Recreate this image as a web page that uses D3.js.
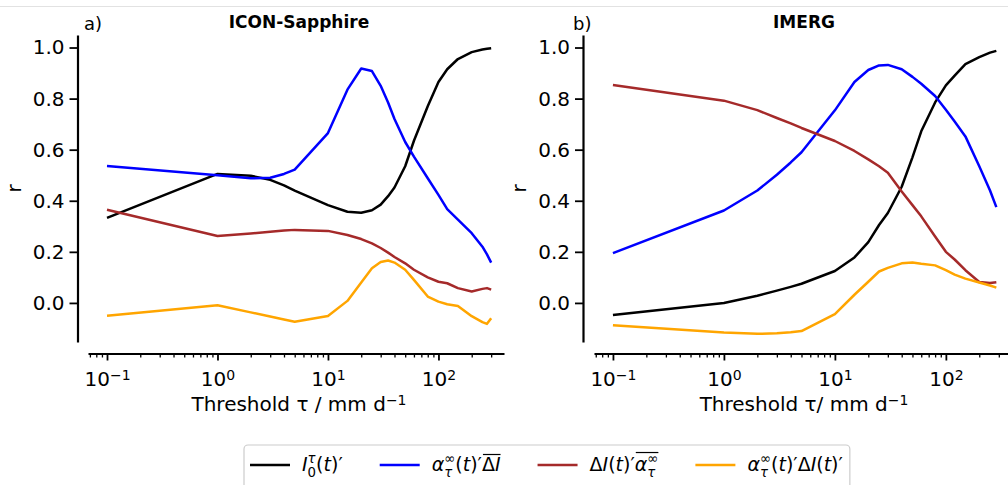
<!DOCTYPE html>
<html>
<head>
<meta charset="utf-8">
<script src="https://cdn.jsdelivr.net/npm/d3@7/dist/d3.min.js"></script>
<style>
    body { margin: 0; background: #fff; }
    svg { display: block; font-family: "DejaVu Sans", sans-serif; }
</style>
</head>
<body>
<svg id="chart" width="1008" height="485"></svg>
<script>
// ICON-Sapphire (panel a)
var thresholdsIcon = [0.1, 1, 2, 3, 4, 5, 10, 15, 20, 25, 30, 35, 40, 50, 60, 80, 100, 120, 150, 200, 250, 275, 300];
var i0Icon = [0.333, 0.505, 0.498, 0.482, 0.46, 0.44, 0.383, 0.357, 0.353, 0.363, 0.385, 0.418, 0.452, 0.535, 0.635, 0.77, 0.865, 0.915, 0.955, 0.982, 0.992, 0.995, 0.997];
var alphaDiBarIcon = [0.536, 0.5, 0.488, 0.49, 0.505, 0.522, 0.665, 0.835, 0.918, 0.908, 0.85, 0.785, 0.72, 0.63, 0.573, 0.488, 0.423, 0.367, 0.326, 0.273, 0.22, 0.19, 0.158];
var diAlphaBarIcon = [0.365, 0.262, 0.272, 0.279, 0.284, 0.286, 0.282, 0.266, 0.25, 0.233, 0.215, 0.197, 0.18, 0.155, 0.13, 0.1, 0.083, 0.077, 0.058, 0.045, 0.055, 0.058, 0.052];
var alphaDiIcon = [-0.05, -0.009, -0.037, -0.053, -0.065, -0.074, -0.051, 0.008, 0.08, 0.136, 0.16, 0.166, 0.158, 0.13, 0.09, 0.025, 0.005, -0.005, -0.012, -0.052, -0.075, -0.082, -0.06];

// IMERG (panel b)
var thresholdsImerg = [0.1, 1, 2, 3, 4, 5, 10, 15, 20, 25, 30, 40, 50, 60, 80, 100, 120, 150, 200, 250, 285];
var i0Imerg = [-0.047, 0.0, 0.028, 0.048, 0.063, 0.075, 0.125, 0.178, 0.238, 0.305, 0.352, 0.455, 0.57, 0.672, 0.785, 0.852, 0.89, 0.935, 0.962, 0.98, 0.987];
var alphaDiBarImerg = [0.195, 0.362, 0.44, 0.502, 0.55, 0.59, 0.754, 0.865, 0.912, 0.93, 0.932, 0.915, 0.885, 0.858, 0.81, 0.756, 0.71, 0.652, 0.535, 0.44, 0.375];
var diAlphaBarImerg = [0.853, 0.792, 0.755, 0.724, 0.703, 0.685, 0.634, 0.595, 0.562, 0.535, 0.51, 0.436, 0.383, 0.339, 0.26, 0.2, 0.17, 0.128, 0.082, 0.078, 0.081];
var alphaDiImerg = [-0.087, -0.116, -0.121, -0.119, -0.115, -0.11, -0.044, 0.032, 0.083, 0.123, 0.137, 0.155, 0.158, 0.153, 0.147, 0.128, 0.111, 0.095, 0.08, 0.068, 0.06];

var seriesColors = ["black", "blue", "brown", "orange"];
var yTicks = [0, 0.2, 0.4, 0.6, 0.8, 1.0];
var xTicks = [0.1, 1, 10, 100];

var svg = d3.select("#chart");

// thin grey rule along the top of the picture
svg.append("line")
    .attr("x1", 0).attr("x2", 1008)
    .attr("y1", 6.5).attr("y2", 6.5)
    .attr("stroke", "#e2e2e2").attr("stroke-width", 1);

var panels = [
    { title: "ICON-Sapphire", tag: "a)", tagX: 84, xLabel: "Threshold \u03c4 / mm d", spineX: 77.5,
      xRange: [88, 504], xDomain: [0.0673, 392], x: thresholdsIcon,
      series: [i0Icon, alphaDiBarIcon, diAlphaBarIcon, alphaDiIcon] },
    { title: "IMERG", tag: "b)", tagX: 573, xLabel: "Threshold \u03c4/ mm d", spineX: 583,
      xRange: [594, 1008], xDomain: [0.0675, 363], x: thresholdsImerg,
      series: [i0Imerg, alphaDiBarImerg, diAlphaBarImerg, alphaDiImerg] }
];

var y = d3.scaleLinear().domain([-0.153, 1.049]).range([342, 35]);
var xAxisY = 353.5;

panels.forEach(function (p) {
    var x = d3.scaleLog().domain(p.xDomain).range(p.xRange);
    var g = svg.append("g");

    // minor ticks on the log axis
    var minor = [];
    for (var k = -2; k <= 3; k++) {
        for (var m = 2; m <= 9; m++) {
            var v = m * Math.pow(10, k);
            if (v >= p.xDomain[0] && v <= p.xDomain[1]) minor.push(v);
        }
    }

    g.append("g")
        .attr("transform", "translate(0," + xAxisY + ")")
        .call(d3.axisBottom(x).tickValues(minor).tickFormat("").tickSize(4).tickSizeOuter(0))
        .call(function (a) { a.select(".domain").remove(); })
        .selectAll("line").attr("stroke-width", 1.3);

    var xAxis = g.append("g")
        .attr("transform", "translate(0," + xAxisY + ")")
        .call(d3.axisBottom(x).tickValues(xTicks).tickSize(7).tickSizeOuter(0).tickPadding(11));
    xAxis.select(".domain").attr("stroke-width", 2.2);
    xAxis.selectAll(".tick line").attr("stroke-width", 1.8);
    xAxis.selectAll(".tick text")
        .attr("font-size", "20px")
        .attr("font-family", "DejaVu Sans")
        .each(function (d) {
            var e = Math.round(Math.log10(d));
            var t = d3.select(this).text(null);
            t.append("tspan").text("10");
            t.append("tspan").attr("dy", "-0.42em").attr("font-size", "14px")
                .text(e < 0 ? "\u2212" + (-e) : String(e));
        });

    var yAxis = g.append("g")
        .attr("transform", "translate(" + p.spineX + ",0)")
        .call(d3.axisLeft(y).tickValues(yTicks).tickFormat(d3.format(".1f")).tickSize(8).tickSizeOuter(0).tickPadding(5));
    yAxis.select(".domain").attr("stroke-width", 2.2);
    yAxis.selectAll(".tick line").attr("stroke-width", 1.8);
    yAxis.selectAll(".tick text").attr("font-size", "20px").attr("font-family", "DejaVu Sans");

    // data lines
    var line = d3.line()
        .x(function (d) { return x(d[0]); })
        .y(function (d) { return y(d[1]); });
    p.series.forEach(function (s, i) {
        g.append("path")
            .datum(p.x.map(function (t, j) { return [t, s[j]]; }))
            .attr("fill", "none")
            .attr("stroke", seriesColors[i])
            .attr("stroke-width", 2.5)
            .attr("stroke-linejoin", "round")
            .attr("d", line);
    });

    var cx = (p.xRange[0] + p.xRange[1]) / 2 + 3;
    g.append("text")
        .attr("x", cx).attr("y", 28)
        .attr("text-anchor", "middle")
        .attr("font-size", "17px").attr("font-weight", "bold")
        .text(p.title);

    g.append("text")
        .attr("x", p.tagX).attr("y", 30)
        .attr("font-size", "18px")
        .text(p.tag);

    var xl = g.append("text")
        .attr("x", cx).attr("y", 411)
        .attr("text-anchor", "middle")
        .attr("font-size", "20px");
    xl.append("tspan").text(p.xLabel);
    xl.append("tspan").attr("dy", "-0.45em").attr("font-size", "14px").text("\u22121");

    g.append("text")
        .attr("transform", "translate(" + (p.spineX - 57) + "," + ((35 + 342) / 2) + ") rotate(-90)")
        .attr("text-anchor", "middle")
        .attr("font-size", "20px")
        .text("r");
});

// legend with small math labels
var legendLabels = [
    [{ t: "I", it: 1 }, { t: "\u03c4", pos: "sup", it: 1 }, { t: "0", pos: "sub", stack: 1 },
     { t: "(" }, { t: "t", it: 1 }, { t: ")" }, { t: "\u2032" }],
    [{ t: "\u03b1", it: 1 }, { t: "\u221e", pos: "sup" }, { t: "\u03c4", pos: "sub", stack: 1, it: 1 },
     { t: "(" }, { t: "t", it: 1 }, { t: ")" }, { t: "\u2032" }, { t: "\u0394", over: 1 }, { t: "I", it: 1, over: 1 }],
    [{ t: "\u0394" }, { t: "I", it: 1 }, { t: "(" }, { t: "t", it: 1 }, { t: ")" }, { t: "\u2032" },
     { t: "\u03b1", it: 1, over: 1 }, { t: "\u221e", pos: "sup", over: 1 }, { t: "\u03c4", pos: "sub", stack: 1, it: 1, over: 1 }],
    [{ t: "\u03b1", it: 1 }, { t: "\u221e", pos: "sup" }, { t: "\u03c4", pos: "sub", stack: 1, it: 1 },
     { t: "(" }, { t: "t", it: 1 }, { t: ")" }, { t: "\u2032" }, { t: "\u0394" }, { t: "I", it: 1 },
     { t: "(" }, { t: "t", it: 1 }, { t: ")" }, { t: "\u2032" }]
];

function drawMath(parent, x0, baseY, parts, size) {
    var cursor = x0, lastStart = x0, overBoxes = [];
    parts.forEach(function (part) {
        var fs = part.pos ? size * 0.7 : size;
        var dy = part.pos === "sup" ? -size * 0.42 : part.pos === "sub" ? size * 0.3 : 0;
        var start = part.stack ? lastStart : cursor;
        var t = parent.append("text")
            .attr("x", start).attr("y", baseY + dy)
            .attr("font-size", fs + "px")
            .attr("font-style", part.it ? "italic" : "normal")
            .text(part.t);
        var b = t.node().getBBox();
        var w = t.node().getComputedTextLength();
        if (part.over) overBoxes.push({ x0: start, x1: start + w, top: b.y });
        if (part.stack) cursor = Math.max(cursor, start + w);
        else { lastStart = start; cursor = start + w; }
    });
    if (overBoxes.length) {
        var top = d3.min(overBoxes, function (d) { return d.top; });
        parent.append("line")
            .attr("x1", d3.min(overBoxes, function (d) { return d.x0; }) + 1)
            .attr("x2", d3.max(overBoxes, function (d) { return d.x1; }))
            .attr("y1", top + 1.5).attr("y2", top + 1.5)
            .attr("stroke", "black").attr("stroke-width", 1.2);
    }
    return cursor;
}

var legend = svg.append("g");
var legendBox = legend.append("rect")
    .attr("y", 445).attr("height", 60).attr("rx", 4)
    .attr("fill", "white").attr("stroke", "#cccccc").attr("stroke-width", 1.2);
var lx = 250, ly = 465;
legendLabels.forEach(function (parts, i) {
    legend.append("line")
        .attr("x1", lx).attr("x2", lx + 40)
        .attr("y1", ly).attr("y2", ly)
        .attr("stroke", seriesColors[i]).attr("stroke-width", 2.5);
    var end = drawMath(legend, lx + 52, ly + 6, parts, 19);
    lx = end + 37;
});
legendBox.attr("x", 244).attr("width", lx - 37 + 7 - 244);
</script>
</body>
</html>
